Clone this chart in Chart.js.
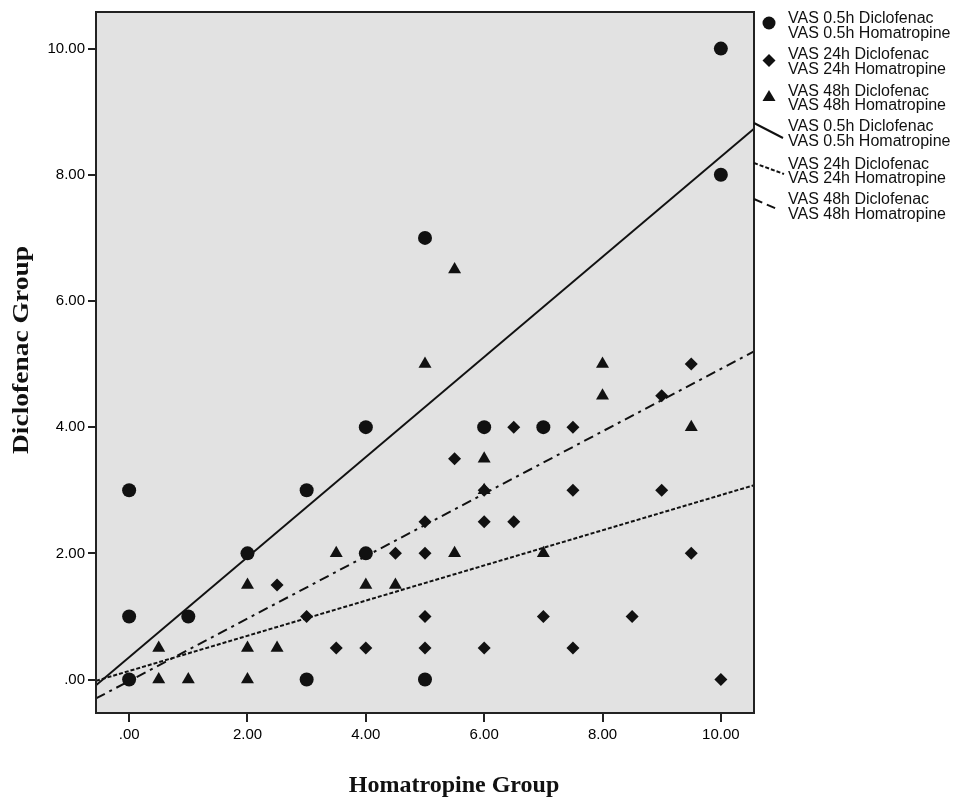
<!DOCTYPE html>
<html lang="en">
<head>
    <meta charset="UTF-8">
    <title>Diclofenac vs Homatropine VAS</title>
    <style>
        body {
            margin: 0;
            background: #fff;
        }
        #vasChart {
            display: block;
        }
    </style>
</head>
<body>

<canvas id="vasChart" width="960" height="807"></canvas>

<script src="https://cdn.jsdelivr.net/npm/chart.js"></script>
<script>
    // VAS 0.5h (circles)
    const vas05Homatropine = [0, 0, 0, 1, 2, 3, 3, 4, 4, 5, 5, 6, 7, 10, 10];
    const vas05Diclofenac  = [3, 1, 0, 1, 2, 3, 0, 4, 2, 7, 0, 4, 4, 10, 8];

    // VAS 24h (diamonds)
    const vas24Homatropine = [0, 2.5, 3, 3.5, 4, 4.5, 5, 5, 5, 5, 5, 5.5, 6, 6, 6, 6.5, 6.5, 7, 7.5, 7.5, 7.5, 8.5, 9, 9, 9.5, 9.5, 10];
    const vas24Diclofenac  = [0, 1.5, 1, 0.5, 0.5, 2, 2.5, 2, 1, 0.5, 0, 3.5, 3, 2.5, 0.5, 4, 2.5, 1, 4, 3, 0.5, 1, 4.5, 3, 5, 2, 0];

    // VAS 48h (triangles)
    const vas48Homatropine = [0.5, 0.5, 1, 2, 2, 2, 2.5, 3.5, 4, 4.5, 5, 5.5, 5.5, 6, 6, 7, 8, 8, 9.5];
    const vas48Diclofenac  = [0.5, 0, 0, 1.5, 0.5, 0, 0.5, 2, 1.5, 1.5, 5, 6.5, 2, 3.5, 3, 2, 5, 4.5, 4];

    // fit lines, read at the two frame edges
    const fitX   = [-0.56, 10.56];
    const fit05  = [-0.09, 8.73];
    const fit24  = [-0.02, 3.08];
    const fit48  = [-0.30, 5.20];

    const xTicks = [0, 2, 4, 6, 8, 10];
    const yTicks = [0, 2, 4, 6, 8, 10];

    const legendLines = [
        ['VAS 0.5h Diclofenac', 'VAS 0.5h Homatropine'],
        ['VAS 24h Diclofenac', 'VAS 24h Homatropine'],
        ['VAS 48h Diclofenac', 'VAS 48h Homatropine'],
        ['VAS 0.5h Diclofenac', 'VAS 0.5h Homatropine'],
        ['VAS 24h Diclofenac', 'VAS 24h Homatropine'],
        ['VAS 48h Diclofenac', 'VAS 48h Homatropine']
    ];

    function toPoints(xs, ys) {
        return xs.map((x, i) => ({ x: x, y: ys[i] }));
    }

    function tickText(v) {
        return v === 0 ? '.00' : v.toFixed(2);
    }

    const INK = '#111';
    const SANS = '"Liberation Sans", Arial, sans-serif';

    // gray plot area, frame, axis titles and the SPSS-like legend
    const decorPlugin = {
        id: 'decor',
        beforeDatasetsDraw(chart) {
            const a = chart.chartArea;
            const ctx = chart.ctx;
            ctx.save();
            ctx.fillStyle = '#e2e2e2';
            ctx.fillRect(a.left, a.top, a.right - a.left, a.bottom - a.top);
            ctx.restore();
        },
        afterDraw(chart) {
            const a = chart.chartArea;
            const ctx = chart.ctx;
            ctx.save();
            ctx.strokeStyle = '#222';
            ctx.lineWidth = 2;
            ctx.strokeRect(a.left, a.top, a.right - a.left, a.bottom - a.top);

            // axis titles
            ctx.fillStyle = '#111';
            ctx.font = 'bold 24px "Liberation Serif", "Times New Roman", serif';
            ctx.textAlign = 'center';
            ctx.textBaseline = 'middle';
            ctx.fillText('Homatropine Group', 454, 786);
            ctx.save();
            ctx.translate(22, 350);
            ctx.rotate(-Math.PI / 2);
            // the original title is drawn stretched along its length
            const w = ctx.measureText('Diclofenac Group').width;
            ctx.scale(208 / w, 1);
            ctx.fillText('Diclofenac Group', 0, 0);
            ctx.restore();

            // legend text
            ctx.font = '16px ' + SANS;
            ctx.textAlign = 'left';
            const rows = [[19, 34], [55, 70], [92, 106], [127, 142], [165, 179], [200, 215]];
            legendLines.forEach((pair, i) => {
                ctx.fillText(pair[0], 788, rows[i][0]);
                ctx.fillText(pair[1], 788, rows[i][1]);
            });

            // legend markers
            ctx.fillStyle = INK;
            ctx.beginPath();
            ctx.arc(769, 23, 6.5, 0, Math.PI * 2);
            ctx.fill();
            ctx.beginPath();
            ctx.moveTo(769, 54); ctx.lineTo(775.5, 60.5); ctx.lineTo(769, 67); ctx.lineTo(762.5, 60.5);
            ctx.closePath();
            ctx.fill();
            ctx.beginPath();
            ctx.moveTo(769, 90); ctx.lineTo(775.5, 101); ctx.lineTo(762.5, 101);
            ctx.closePath();
            ctx.fill();

            // legend line samples
            ctx.strokeStyle = INK;
            ctx.lineWidth = 2;
            ctx.setLineDash([]);
            ctx.beginPath(); ctx.moveTo(754, 123); ctx.lineTo(783, 138); ctx.stroke();
            ctx.setLineDash([4, 2]);
            ctx.beginPath(); ctx.moveTo(754, 163); ctx.lineTo(784, 174); ctx.stroke();
            ctx.setLineDash([9, 5]);
            ctx.beginPath(); ctx.moveTo(754, 199); ctx.lineTo(777, 209); ctx.stroke();
            ctx.restore();
        }
    };

    const ctx = document.getElementById('vasChart').getContext('2d');
    const vasChart = new Chart(ctx, {
        type: 'scatter',
        data: {
            datasets: [
                {
                    label: 'VAS 0.5h',
                    data: toPoints(vas05Homatropine, vas05Diclofenac),
                    pointStyle: 'circle',
                    pointRadius: 7,
                    backgroundColor: INK,
                    borderWidth: 0
                },
                {
                    label: 'VAS 24h',
                    data: toPoints(vas24Homatropine, vas24Diclofenac),
                    pointStyle: 'rectRot',
                    pointRadius: 6.5,
                    backgroundColor: INK,
                    borderWidth: 0
                },
                {
                    label: 'VAS 48h',
                    data: toPoints(vas48Homatropine, vas48Diclofenac),
                    pointStyle: 'triangle',
                    pointRadius: 7.5,
                    backgroundColor: INK,
                    borderWidth: 0
                },
                {
                    label: 'Fit 0.5h',
                    data: toPoints(fitX, fit05),
                    showLine: true,
                    pointRadius: 0,
                    borderColor: INK,
                    borderWidth: 2
                },
                {
                    label: 'Fit 24h',
                    data: toPoints(fitX, fit24),
                    showLine: true,
                    pointRadius: 0,
                    borderColor: INK,
                    borderWidth: 2,
                    borderDash: [4, 2]
                },
                {
                    label: 'Fit 48h',
                    data: toPoints(fitX, fit48),
                    showLine: true,
                    pointRadius: 0,
                    borderColor: INK,
                    borderWidth: 2,
                    borderDash: [10, 5, 3, 5]
                }
            ]
        },
        options: {
            responsive: false,
            animation: false,
            layout: {
                padding: { left: 0, right: 206, top: 5, bottom: 0 }
            },
            scales: {
                x: {
                    type: 'linear',
                    min: -0.56,
                    max: 10.56,
                    afterBuildTicks: (scale) => { scale.ticks = xTicks.map(v => ({ value: v })); },
                    afterFit: (scale) => { scale.height = 94; },
                    grid: { drawOnChartArea: false, drawTicks: true, tickLength: 9, color: '#222', lineWidth: 2 },
                    border: { display: false },
                    ticks: {
                        callback: tickText,
                        color: '#000',
                        padding: 4,
                        maxRotation: 0,
                        font: { family: SANS, size: 15 }
                    }
                },
                y: {
                    type: 'linear',
                    min: -0.53,
                    max: 10.58,
                    afterBuildTicks: (scale) => { scale.ticks = yTicks.map(v => ({ value: v })); },
                    afterFit: (scale) => { scale.width = 96; },
                    grid: { drawOnChartArea: false, drawTicks: true, tickLength: 8, color: '#222', lineWidth: 2 },
                    border: { display: false },
                    ticks: {
                        callback: tickText,
                        color: '#000',
                        padding: 3,
                        font: { family: SANS, size: 15 }
                    }
                }
            },
            plugins: {
                legend: { display: false },
                tooltip: { enabled: false }
            }
        },
        plugins: [decorPlugin]
    });
</script>

</body>
</html>
